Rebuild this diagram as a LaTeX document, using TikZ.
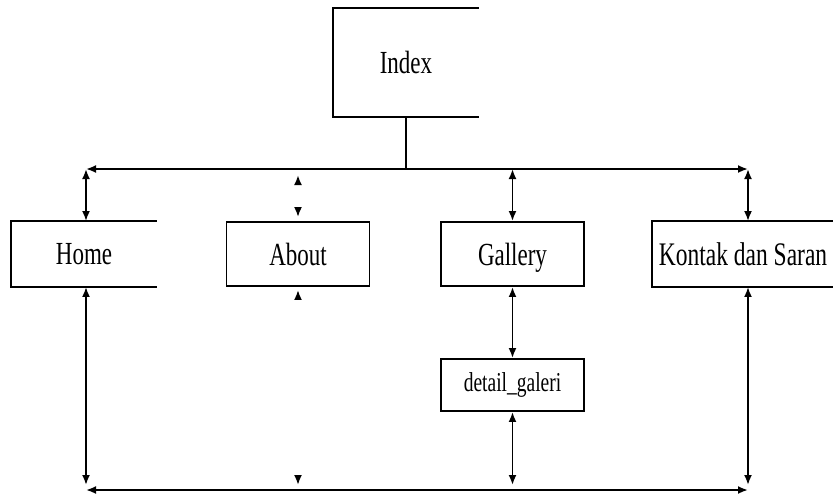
\documentclass[tikz,border=0pt]{standalone}
\usepackage{fontspec}
\usepackage{graphicx}
\setmainfont{Liberation Serif}
\usetikzlibrary{arrows.meta}
\begin{document}
\begin{tikzpicture}[x=1pt,y=-1pt, line width=1.9pt,
  dbl/.style={{Latex[length=10pt,width=8pt]}-{Latex[length=10pt,width=8pt]}},
  ghost/.style={draw=white,{Latex[length=10pt,width=8pt,black]}-{Latex[length=10pt,width=8pt,black]}},
  box/.style={inner sep=0pt, font=\fontsize{23}{23}\selectfont},
  fbox/.style={box, draw}]
\useasboundingbox (0,0) rectangle (833,499);
% nodes
\node[box, minimum width=144pt, minimum height=107pt] (index) at (406,62.5) {\scalebox{1}[1.4]{Index}};
\node[box, minimum width=144pt, minimum height=64pt] (home) at (84,254) {\scalebox{1}[1.4]{Home}};
\node[fbox, minimum width=143pt, minimum height=64pt] (about) at (298,254) {\scalebox{1}[1.4]{About}};
\node[fbox, minimum width=143pt, minimum height=64pt, text depth=0pt] (gallery) at (512.5,254) {\scalebox{1}[1.4]{Gallery}};
\node[fbox, minimum width=143pt, minimum height=52pt, font=\fontsize{19.5}{19.5}\selectfont] (detail) at (512.5,385) {\scalebox{1}[1.4]{detail\_galeri}};
\node[box, minimum width=180pt, minimum height=64pt, font=\fontsize{23.5}{23.5}\selectfont] (kontak) at (743,254) {\scalebox{1}[1.4]{Kontak dan Saran}};
% open boxes
\draw (index.north east) -- (index.north west) -- (index.south west) -- (index.south east);
\draw (home.north east) -- (home.north west) -- (home.south west) -- (home.south east);
\draw (kontak.north east) -- (kontak.north west) -- (kontak.south west) -- (kontak.south east);
% bus lines
\coordinate (tl) at (86,169);
\coordinate (tr) at (748,169);
\coordinate (bl) at (86,490);
\coordinate (br) at (748,490);
\draw (index.south) -- (index.south |- tl);
\draw[dbl] (tl) -- (tr);
\draw[dbl] (bl) -- (br);
% connectors
\draw[dbl] (tl) -- (tl |- home.north);
\draw[dbl] (tl |- home.south) -- ([yshift=5pt]bl);
\draw[dbl] (gallery.north |- tl) -- (gallery.north);
\draw[dbl] (gallery.south) -- (detail.north);
\draw[dbl] (detail.south) -- ([yshift=5pt]detail.south |- bl);
\draw[dbl] (tr) -- (tr |- kontak.north);
\draw[dbl] (tr |- kontak.south) -- ([yshift=5pt]br);
\path[ghost] ([yshift=46pt]about.north) -- ([yshift=4pt]about.north);
\path[ghost] ([yshift=-3pt]about.south) -- ([yshift=5pt]about.south |- bl);
\end{tikzpicture}
\end{document}
